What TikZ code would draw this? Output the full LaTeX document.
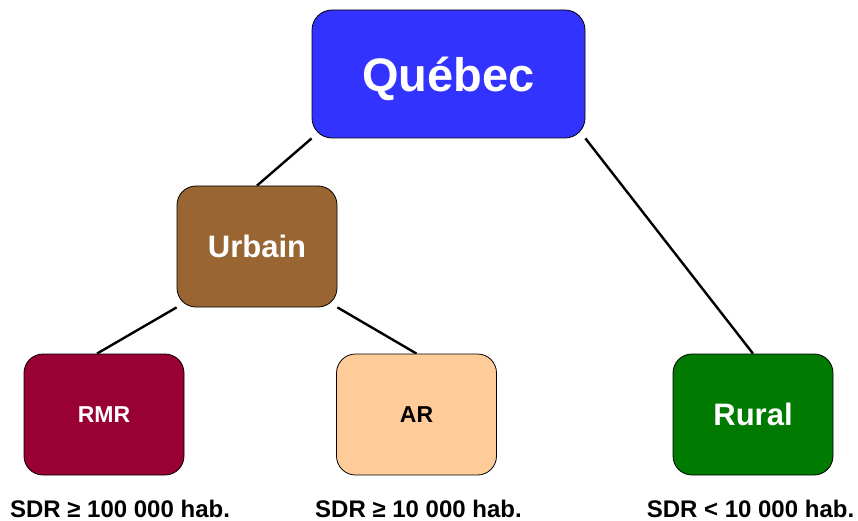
\documentclass[tikz,border=0pt]{standalone}
\usepackage{fontspec}
\setmainfont{Liberation Sans}
\usetikzlibrary{backgrounds}
\definecolor{qblue}{HTML}{3333FF}
\definecolor{ubrown}{HTML}{996633}
\definecolor{rmrred}{HTML}{990033}
\definecolor{arpeach}{HTML}{FFCC99}
\definecolor{rgreen}{HTML}{007A00}
\tikzset{
  box/.style={draw=black, line width=0.8pt, rounded corners=19pt, minimum width=160pt, minimum height=121pt, inner sep=0pt, font=\bfseries\fontsize{31}{31}\selectfont, text=white},
  small/.style={font=\bfseries\fontsize{23}{23}\selectfont},
  link/.style={draw=black, line width=2.4pt},
  lbl/.style={font=\bfseries\fontsize{24}{24}\selectfont, anchor=base, inner sep=0pt}
}
\begin{document}
\begin{tikzpicture}[x=1pt, y=-1pt]
\useasboundingbox (0,0) rectangle (858,521);
\node[box, fill=qblue, minimum width=273pt, minimum height=128pt, rounded corners=20pt, text height=35pt, text depth=0pt, font=\bfseries\fontsize{47}{47}\selectfont] (q) at (448.5,74) {Québec};
\node[box, fill=ubrown] (u) at (257,246.5) {Urbain};
\node[box, small, fill=rmrred] (rmr) at (104,414.5) {RMR};
\node[box, small, fill=arpeach, text=black] (ar) at (416.5,414.5) {AR};
\node[box, fill=rgreen] (rur) at (753,414.5) {Rural};
\node[lbl] (l1) at (120,517) {SDR ≥ 100 000 hab.};
\node[lbl] (l2) at (418.5,517) {SDR ≥ 10 000 hab.};
\node[lbl] (l3) at (750.5,517) {SDR < 10 000 hab.};
\begin{scope}[on background layer]
\draw[link] (q.south west) -- (u.north);
\draw[link] (q.south east) -- (rur.north);
\draw[link] (u.south west) -- ([xshift=-7pt]rmr.north);
\draw[link] (u.south east) -- (ar.north);
\end{scope}
\end{tikzpicture}
\end{document}
